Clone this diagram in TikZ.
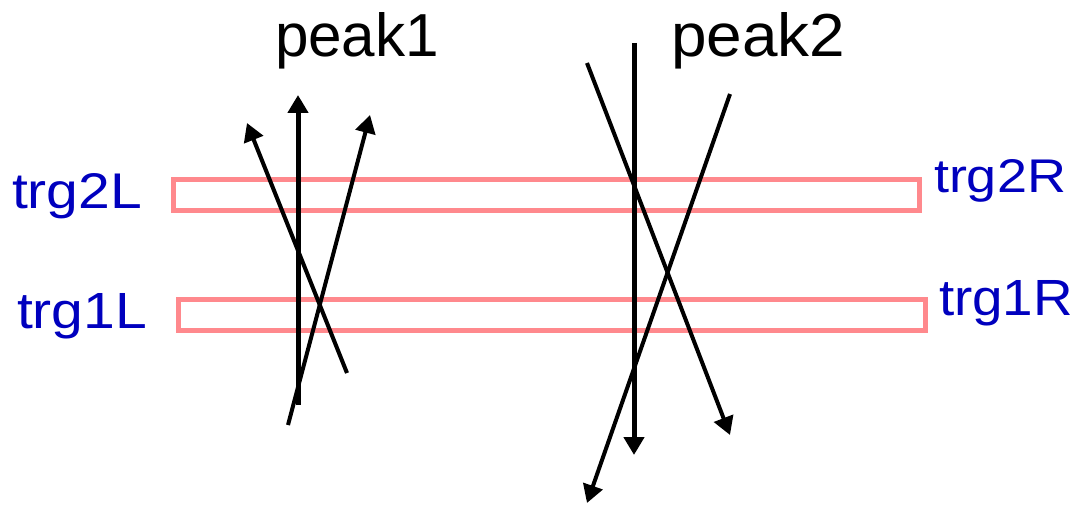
\documentclass[tikz,border=0pt]{standalone}
\usepackage{fontspec}
\usepackage{graphicx}
\setmainfont{Liberation Sans}
\usetikzlibrary{arrows.meta}
\definecolor{trgpink}{RGB}{255,137,141}
\definecolor{lblblue}{RGB}{0,0,190}
\tikzset{
  target/.style={draw=trgpink, line width=5pt, fill=none, minimum height=31pt, inner sep=0pt, outer sep=0pt},
  lbl/.style={text=lblblue, inner sep=0pt, outer sep=0pt, anchor=base west},
  peaklbl/.style={text=black, inner sep=0pt, outer sep=0pt, anchor=base west},
  track/.style={draw=black, line width=4pt, -{Triangle[length=18pt,width=20pt]}},
  axis/.style={draw=black, line width=5pt, -{Triangle[length=18pt,width=20pt]}}
}
\begin{document}
\begin{tikzpicture}[x=1pt,y=-1pt]
\useasboundingbox (0,0) rectangle (1077,505);
% targets
\node[target, minimum width=746.5pt] (trg2) at (546.25,195) {};
\node[target, minimum width=747pt] (trg1) at (551.5,315) {};
% labels
\node[lbl] (trg2L) at (12,209) {\resizebox{130pt}{35pt}{trg2L}};
\node[lbl] (trg1L) at (17,328) {\resizebox{130pt}{35pt}{trg1L}};
\node[lbl] (trg2R) at (934,193) {\resizebox{132pt}{33pt}{trg2R}};
\node[lbl] (trg1R) at (939,315) {\resizebox{134pt}{35pt}{trg1R}};
\node[peaklbl] (peak1) at (275,57) {\resizebox{164pt}{44pt}{peak1}};
\node[peaklbl] (peak2) at (671,57) {\resizebox{174pt}{44pt}{peak2}};
% peak1 tracks
\coordinate (p1v0) at (298,405);
\coordinate (p1v1) at (298,95);
\coordinate (p1a0) at (347,373);
\coordinate (p1a1) at (247,123);
\coordinate (p1b0) at (288,425);
\coordinate (p1b1) at (370,115);
\draw[axis] (p1v0) -- (p1v1);
\draw[track] (p1a0) -- (p1a1);
\draw[track] (p1b0) -- (p1b1);
% peak2 tracks
\coordinate (p2v0) at (634,43);
\coordinate (p2v1) at (634,455);
\coordinate (p2a0) at (587,63);
\coordinate (p2a1) at (730,435);
\coordinate (p2b0) at (730,94);
\coordinate (p2b1) at (587,503);
\draw[axis] (p2v0) -- (p2v1);
\draw[track] (p2a0) -- (p2a1);
\draw[track] (p2b0) -- (p2b1);
\end{tikzpicture}
\end{document}
